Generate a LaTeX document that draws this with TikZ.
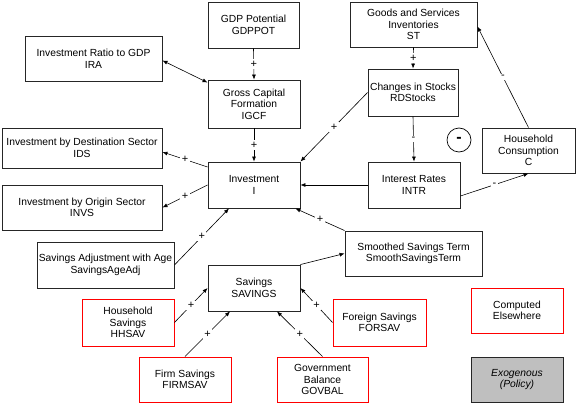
\documentclass[tikz,border=0pt]{standalone}
\usepackage{fontspec}
\setmainfont{Liberation Sans}
\usetikzlibrary{arrows.meta}
\begin{document}
\begin{tikzpicture}[x=1pt,y=-1pt]
\tikzstyle{every node}=[align=center,inner sep=0pt,font=\fontsize{10.3}{11.6}\selectfont];
\tikzstyle{var}=[draw=black!85,line width=0.9pt];
\tikzstyle{ext}=[draw=red,line width=0.9pt];
\tikzstyle{exo}=[draw=black!85,fill=black!25,line width=0.9pt,font=\fontsize{10.3}{11.6}\selectfont\itshape];
\tikzstyle{link}=[line width=0.6pt,-{Latex[length=5pt,width=4pt]}];
\tikzstyle{dlink}=[line width=0.6pt,{Latex[length=5pt,width=4pt]}-{Latex[length=5pt,width=4pt]}];
\tikzstyle{sign}=[midway,fill=white,inner sep=1.5pt,font=\fontsize{11}{11}\selectfont];
\useasboundingbox (0,0) rectangle (577,406);
\node[var,minimum width=91pt,minimum height=46pt] (gdppot) at (253.5,25) {GDP Potential\\GDPPOT};
\node[var,minimum width=137pt,minimum height=45pt] (ira) at (93.5,58.5) {Investment Ratio to GDP\\IRA};
\node[var,minimum width=92pt,minimum height=48pt] (igcf) at (254,104) {Gross Capital\\Formation\\IGCF};
\node[var,minimum width=127pt,minimum height=45pt] (st) at (413.5,24.5) {Goods and Services\\Inventories\\ST};
\node[var,minimum width=90pt,minimum height=47pt] (rdstocks) at (413,92.5) {Changes in Stocks\\RDStocks};
\node[var,minimum width=160pt,minimum height=40pt] (ids) at (82,148) {Investment by Destination Sector\\IDS};
\node[var,minimum width=92pt,minimum height=46pt] (inv) at (254,185) {Investment\\I};
\node[var,minimum width=160pt,minimum height=45pt] (invs) at (82,207.5) {Investment by Origin Sector\\INVS};
\node[var,minimum width=137pt,minimum height=46pt] (saa) at (105.5,265) {Savings Adjustment with Age\\SavingsAgeAdj};
\node[var,minimum width=92pt,minimum height=46pt] (savings) at (254,288) {Savings\\SAVINGS};
\node[ext,minimum width=92pt,minimum height=47pt] (hhsav) at (128,322.5) {Household\\Savings\\HHSAV};
\node[ext,minimum width=92pt,minimum height=45pt] (firmsav) at (185,379.5) {Firm Savings\\FIRMSAV};
\node[ext,minimum width=91pt,minimum height=45pt] (govbal) at (322.5,379.5) {Government\\Balance\\GOVBAL};
\node[ext,minimum width=93pt,minimum height=47pt] (forsav) at (379.5,322.5) {Foreign Savings\\FORSAV};
\node[ext,minimum width=92pt,minimum height=45pt] (computed) at (517,310.5) {Computed\\Elsewhere};
\node[exo,minimum width=92pt,minimum height=45pt] (exog) at (517,379.5) {Exogenous\\(Policy)};
\node[var,minimum width=92pt,minimum height=46pt] (intr) at (414,185) {Interest Rates\\INTR};
\node[var,minimum width=93pt,minimum height=45pt] (cons) at (528.5,150.5) {Household\\Consumption\\C};
\node[var,minimum width=137pt,minimum height=45pt] (sst) at (413.5,253.5) {Smoothed Savings Term\\SmoothSavingsTerm};
\node[draw,circle,line width=0.7pt,minimum size=24pt,font=\fontsize{16}{16}\selectfont\bfseries] (loop) at (459,140) {-};
\draw[link] (gdppot.south) -- node[sign]{+} (igcf.north);
\draw[dlink] ([yshift=-2pt]ira.east) -- ([yshift=-3pt]igcf.north west);
\draw[link] (igcf.south) -- node[sign]{+} (inv.north);
\draw[link] ([yshift=18pt]inv.west) -- node[sign]{+} ([yshift=-4pt]ids.east);
\draw[link] (inv.west) -- node[sign]{+} (invs.east);
\draw[link] (saa.east) -- node[sign]{+} ([xshift=-25pt]inv.south);
\draw[link] (rdstocks.west) -- node[sign]{+} (inv.north east);
\draw[link] (st.south) -- node[sign]{+} (rdstocks.north);
\draw[link] (rdstocks.south) -- node[sign]{-} (intr.north);
\draw[link] (cons.north) -- node[sign]{-} ([yshift=-2pt]st.east);
\draw[link] (intr.west) -- (inv.east);
\draw[link] ([yshift=-11pt]intr.east) -- node[sign]{-} (cons.south);
\draw[link] (sst.north west) -- node[sign]{+} ([xshift=-5pt]inv.south east);
\draw[link] (savings.north east) -- (sst.west);
\draw[link] (hhsav.east) -- node[sign]{+} (savings.west);
\draw[link] (firmsav.north) -- node[sign]{+} ([xshift=-24pt]savings.south);
\draw[link] (govbal.north) -- node[sign]{+} ([xshift=23pt]savings.south);
\draw[link] (forsav.west) -- node[sign]{+} (savings.east);
\end{tikzpicture}
\end{document}
